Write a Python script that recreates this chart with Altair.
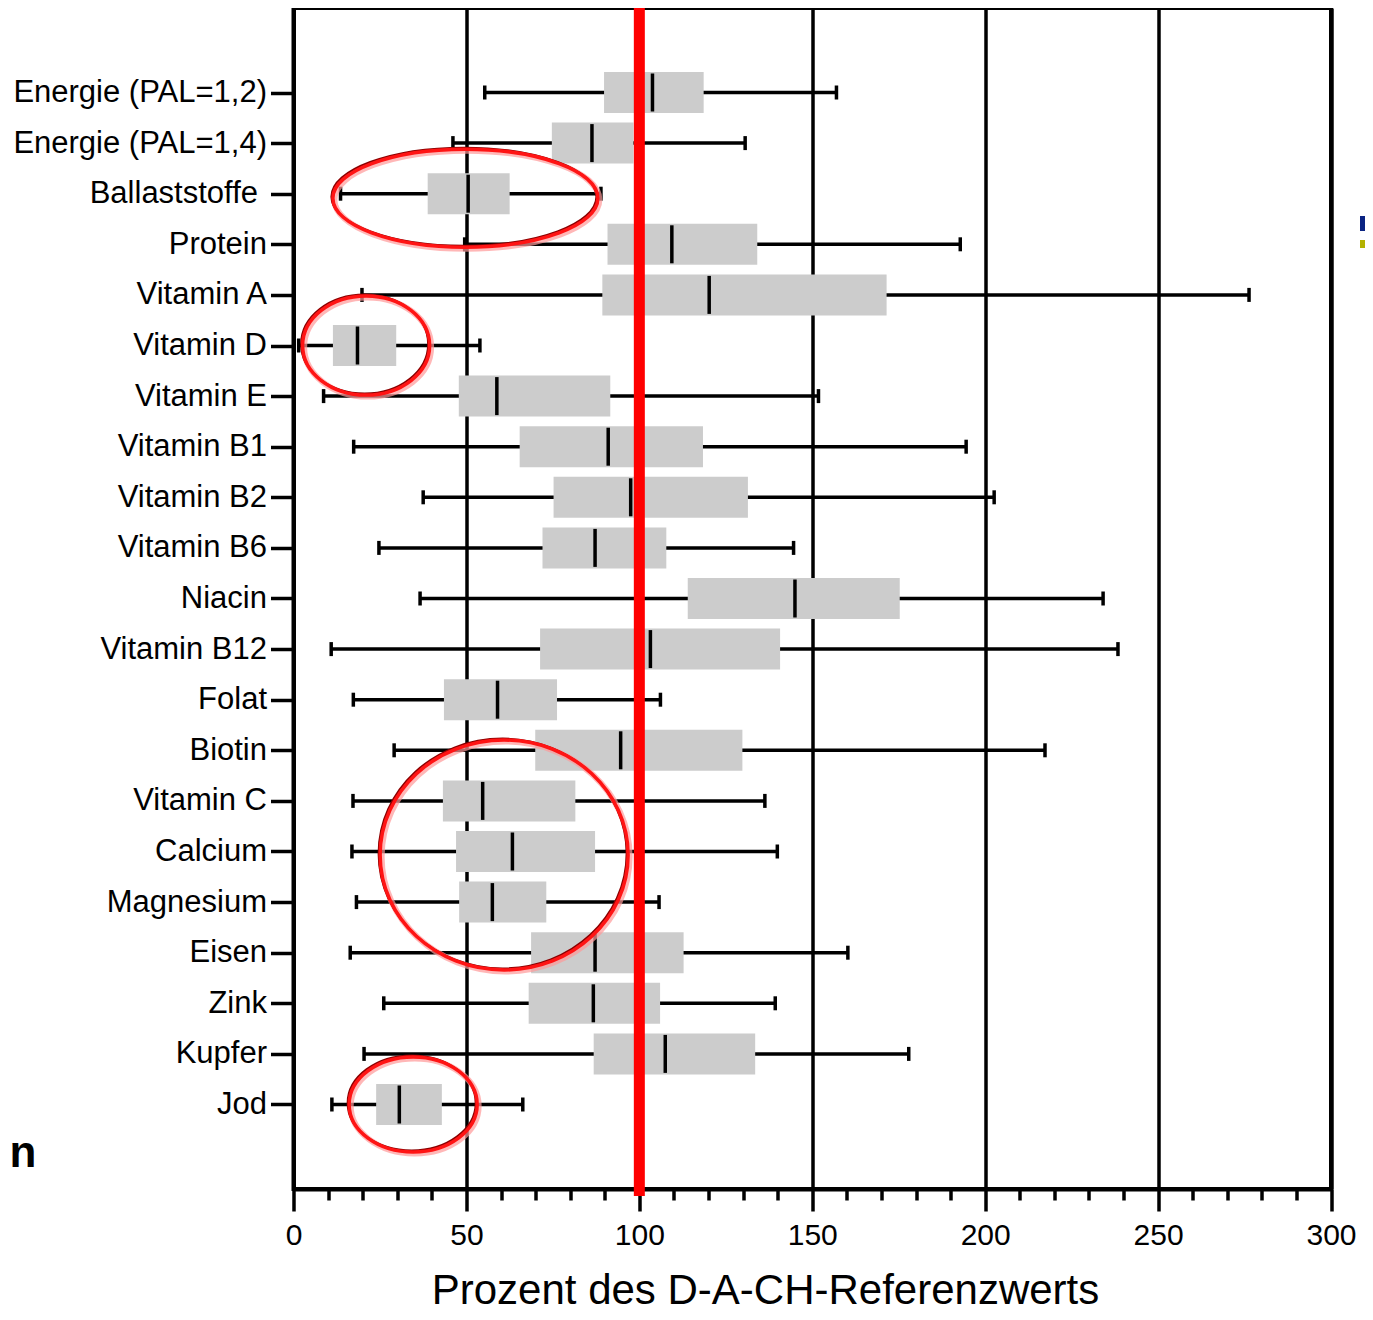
import json
import altair as alt
import pandas as pd

categories = ["Energie (PAL=1,2)", "Energie (PAL=1,4)", "Ballaststoffe", "Protein",
              "Vitamin A", "Vitamin D", "Vitamin E", "Vitamin B1", "Vitamin B2", "Vitamin B6",
              "Niacin", "Vitamin B12", "Folat", "Biotin", "Vitamin C", "Calcium", "Magnesium",
              "Eisen", "Zink", "Kupfer", "Jod"]
whisker_low = [55.3, 46.1, 13.6, 49.5, 19.8, 1.5, 8.7, 17.4, 37.5, 24.7, 36.6, 10.9, 17.3,
               29.1, 17.2, 16.9, 18.2, 16.4, 26.1, 20.4, 11.1]
box_low = [89.8, 74.7, 38.8, 90.8, 89.3, 11.4, 47.8, 65.4, 75.2, 72.0, 114.0, 71.3, 43.5,
           69.9, 43.2, 47.0, 47.9, 68.7, 68.0, 86.8, 23.9]
median = [103.8, 86.3, 50.5, 109.4, 120.2, 18.5, 58.8, 91.0, 97.5, 87.2, 145.0, 103.2, 59.0,
          94.6, 54.7, 63.3, 57.5, 87.2, 86.7, 107.5, 30.6]
box_high = [118.6, 98.3, 62.5, 134.1, 171.5, 29.7, 91.6, 118.4, 131.4, 107.8, 175.3, 140.7,
            76.2, 129.8, 81.5, 87.2, 73.1, 112.8, 106.0, 133.5, 42.9]
whisker_high = [157.0, 130.6, 88.9, 192.8, 276.3, 53.9, 151.8, 194.5, 202.6, 144.6, 234.1,
                238.4, 106.1, 217.3, 136.3, 139.9, 105.7, 160.3, 139.3, 177.9, 66.3]

reference_value = [100]
x_ticks = list(range(0, 301, 10))

# highlighted rows (red ellipses) and their centre on the x scale
highlight_rows = ["Ballaststoffe", "Vitamin D", "Calcium", "Jod"]
highlight_centres = [49.7, 21.0, 60.9, 34.6]

row_index = list(range(len(categories)))
df = pd.DataFrame({
    "row": row_index, "cat": categories, "lo": whisker_low, "q1": box_low, "med": median,
    "q3": box_high, "hi": whisker_high,
})

FONT = "Liberation Sans"
W, H = 1037.5, 1181
OUTER = 1.67  # empty space above the first / below the last row, in row steps

x_scale = alt.Scale(domain=[0, 300], nice=False, zero=False)
y_scale = alt.Scale(domain=[-OUTER, len(categories) - 1 + OUTER], reverse=True,
                    nice=False, zero=False)

x_axis = alt.Axis(
    values=x_ticks,
    labelExpr="datum.value % 50 === 0 ? datum.label : ''",
    labelOverlap=False, labelFlush=False,
    tickSize={"condition": {"test": "datum.value % 50 === 0", "value": 22}, "value": 11},
    tickWidth=3.5, tickColor="black",
    domainColor="black", domainWidth=4,
    grid=True, gridColor="black", gridWidth=3.5,
    gridOpacity={"condition": {"test": "datum.value % 50 === 0", "value": 1}, "value": 0},
    labelFontSize=30, labelColor="black", labelPadding=9, labelFont=FONT,
    title="Prozent des D-A-CH-Referenzwerts", titleFontSize=42, titleFontWeight="normal",
    titleFont=FONT, titleColor="black", titleX=471.5, titleY=114, titleAlign="center",
    titleBaseline="alphabetic",
)
y_axis = alt.Axis(
    title=None, values=row_index,
    labelExpr=json.dumps(categories, ensure_ascii=False) + "[datum.value]",
    tickSize=23, tickWidth=3.5, tickColor="black",
    domainColor="black", domainWidth=4, grid=False,
    labelFontSize=31, labelColor="black", labelFont=FONT,
    labelPadding={"condition": {"test": "datum.value === 2", "value": 13},
                  "value": 4},
    labelOverlap=False, labelLimit=600,
)


def X(field):
    return alt.X(field, scale=x_scale, axis=x_axis)


def Y(field="row:Q"):
    return alt.Y(field, scale=y_scale, axis=y_axis)


VLINE = "M0,-1L0,1"

base = alt.Chart(df)

whiskers = base.mark_rule(color="black", strokeWidth=3.5).encode(
    x=X("lo:Q"), x2="hi:Q", y=Y())
cap_lo = base.mark_point(shape=VLINE, size=14 * 14, filled=False, color="black",
                         strokeWidth=3.5, opacity=1).encode(x=X("lo:Q"), y=Y())
cap_hi = base.mark_point(shape=VLINE, size=14 * 14, filled=False, color="black",
                         strokeWidth=3.5, opacity=1).encode(x=X("hi:Q"), y=Y())
boxes = base.mark_rule(color="#cccccc", strokeWidth=41, strokeCap="butt").encode(
    x=X("q1:Q"), x2="q3:Q", y=Y())
medians = base.mark_point(shape=VLINE, size=38 * 38, filled=False, color="black",
                          strokeWidth=3.5, opacity=1).encode(x=X("med:Q"), y=Y())

red_line = alt.Chart(pd.DataFrame({"v": reference_value})).mark_rule(
    color="#ff0000", strokeWidth=11).encode(
    x=X("v:Q"), y=alt.value(0), y2=alt.value(1188))

# ellipse styles: (width px, height/width ratio, y offset px)
ellipse_styles = [(265, 0.37, 4.5), (127, 0.78, 0), (248, 0.927, 3.5), (128, 0.742, 0)]
ellipses = []
for row, centre, (w, r, yoff) in zip(highlight_rows, highlight_centres, ellipse_styles):
    path = f"M-1,0A1,{r} 0 1,1 1,0A1,{r} 0 1,1 -1,0Z"
    d = pd.DataFrame({"row": [categories.index(row)], "c": [centre]})
    ellipses.append(alt.Chart(d).mark_point(
        shape=path, size=w * w, filled=False, color="#ff9a9a", strokeWidth=6,
        opacity=0.7, xOffset=1.5, yOffset=yoff + 1.5).encode(x=X("c:Q"), y=Y()))
    ellipses.append(alt.Chart(d).mark_point(
        shape=path, size=w * w, filled=False, color="#8a0000", strokeWidth=2,
        opacity=1, xOffset=-1.5, yOffset=yoff - 1.5).encode(x=X("c:Q"), y=Y()))
    ellipses.append(alt.Chart(d).mark_point(
        shape=path, size=w * w, filled=False, color="#ff1414", strokeWidth=3.5,
        opacity=1, yOffset=yoff).encode(x=X("c:Q"), y=Y()))

one = pd.DataFrame({"k": [0]})
cut_text = alt.Chart(one).mark_text(
    text="n", font=FONT, fontSize=44, fontWeight="bold", align="left",
    baseline="alphabetic", color="black").encode(
    x=alt.value(-284), y=alt.value(1159))
legend_blue = alt.Chart(one).mark_rect(color="#0a2382").encode(
    x=alt.value(1066.5), x2=alt.value(1090), y=alt.value(208), y2=alt.value(223))
legend_yellow = alt.Chart(one).mark_rect(color="#b4b200").encode(
    x=alt.value(1066.5), x2=alt.value(1090), y=alt.value(232), y2=alt.value(240))

chart = alt.layer(
    whiskers, cap_lo, cap_hi, boxes, medians, red_line, *ellipses,
    cut_text, legend_blue, legend_yellow,
).properties(
    width=W, height=H,
    autosize=alt.AutoSizeParams(type="none"),
    padding={"left": 285.5, "top": 0, "right": 34, "bottom": 123},
).configure(font=FONT).configure_view(stroke="black", strokeWidth=4)

chart.save("out.html", embed_options={"renderer": "svg", "actions": False})
